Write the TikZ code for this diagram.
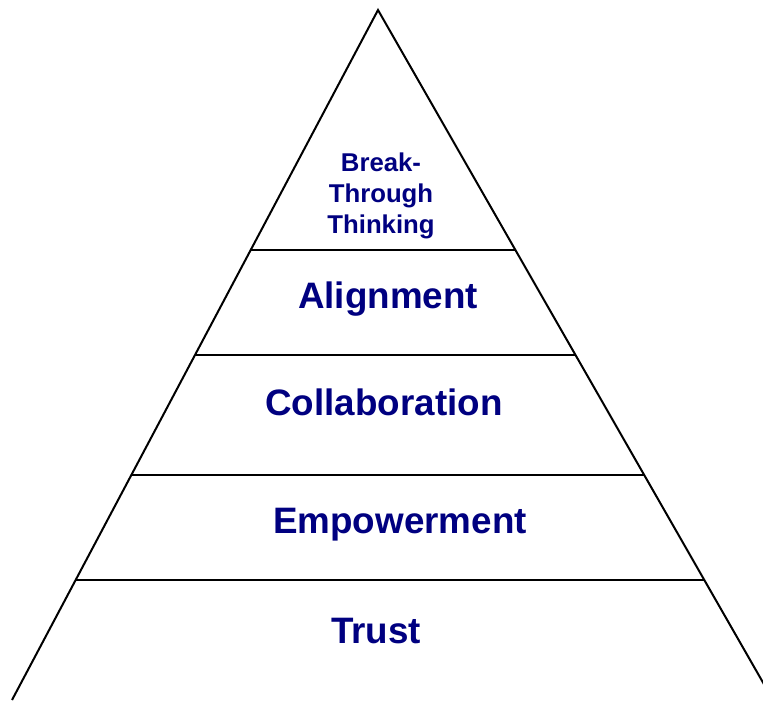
\documentclass[tikz,border=0pt]{standalone}
\usepackage{fontspec}
\setmainfont{Liberation Sans}
\usetikzlibrary{calc}
\definecolor{layerblue}{RGB}{0,0,128}
\tikzset{
  layer/.style={anchor=base, inner sep=0pt, text=layerblue,
    font=\bfseries\fontsize{27.6}{32}\selectfont},
  tiptext/.style={align=center, inner sep=0pt, text=layerblue,
    font=\bfseries\fontsize{19.3}{23}\selectfont},
  edge/.style={line width=1.5pt, line join=miter}
}
\begin{document}
\begin{tikzpicture}[x=0.75pt,y=-0.75pt]
\useasboundingbox (0,0) rectangle (763,700);
\clip (0,0) rectangle (763,700);
% outline of the pyramid
\coordinate (top) at (378,10);
\coordinate (bl) at (12,700);
\coordinate (br) at (773,700);
\draw[edge] (bl) -- (top) -- (br);
% dividing lines between the levels
\foreach \t [count=\i] in {0.3478,0.5,0.6739,0.8261}{
  \coordinate (l\i) at ($(top)!\t!(bl)$);
  \coordinate (r\i) at ($(top)!\t!(br)$);
  \draw[edge] (l\i) -- (r\i);
}
\node[tiptext] (thinking) at (381,196) {Break-\\Through\\Thinking};
\node[layer] (alignment) at (388,308) {Alignment};
\node[layer] (collaboration) at (384,415) {Collaboration};
\node[layer] (empowerment) at (400,533) {Empowerment};
\node[layer] (trust) at (376,643) {Trust};
\end{tikzpicture}
\end{document}
